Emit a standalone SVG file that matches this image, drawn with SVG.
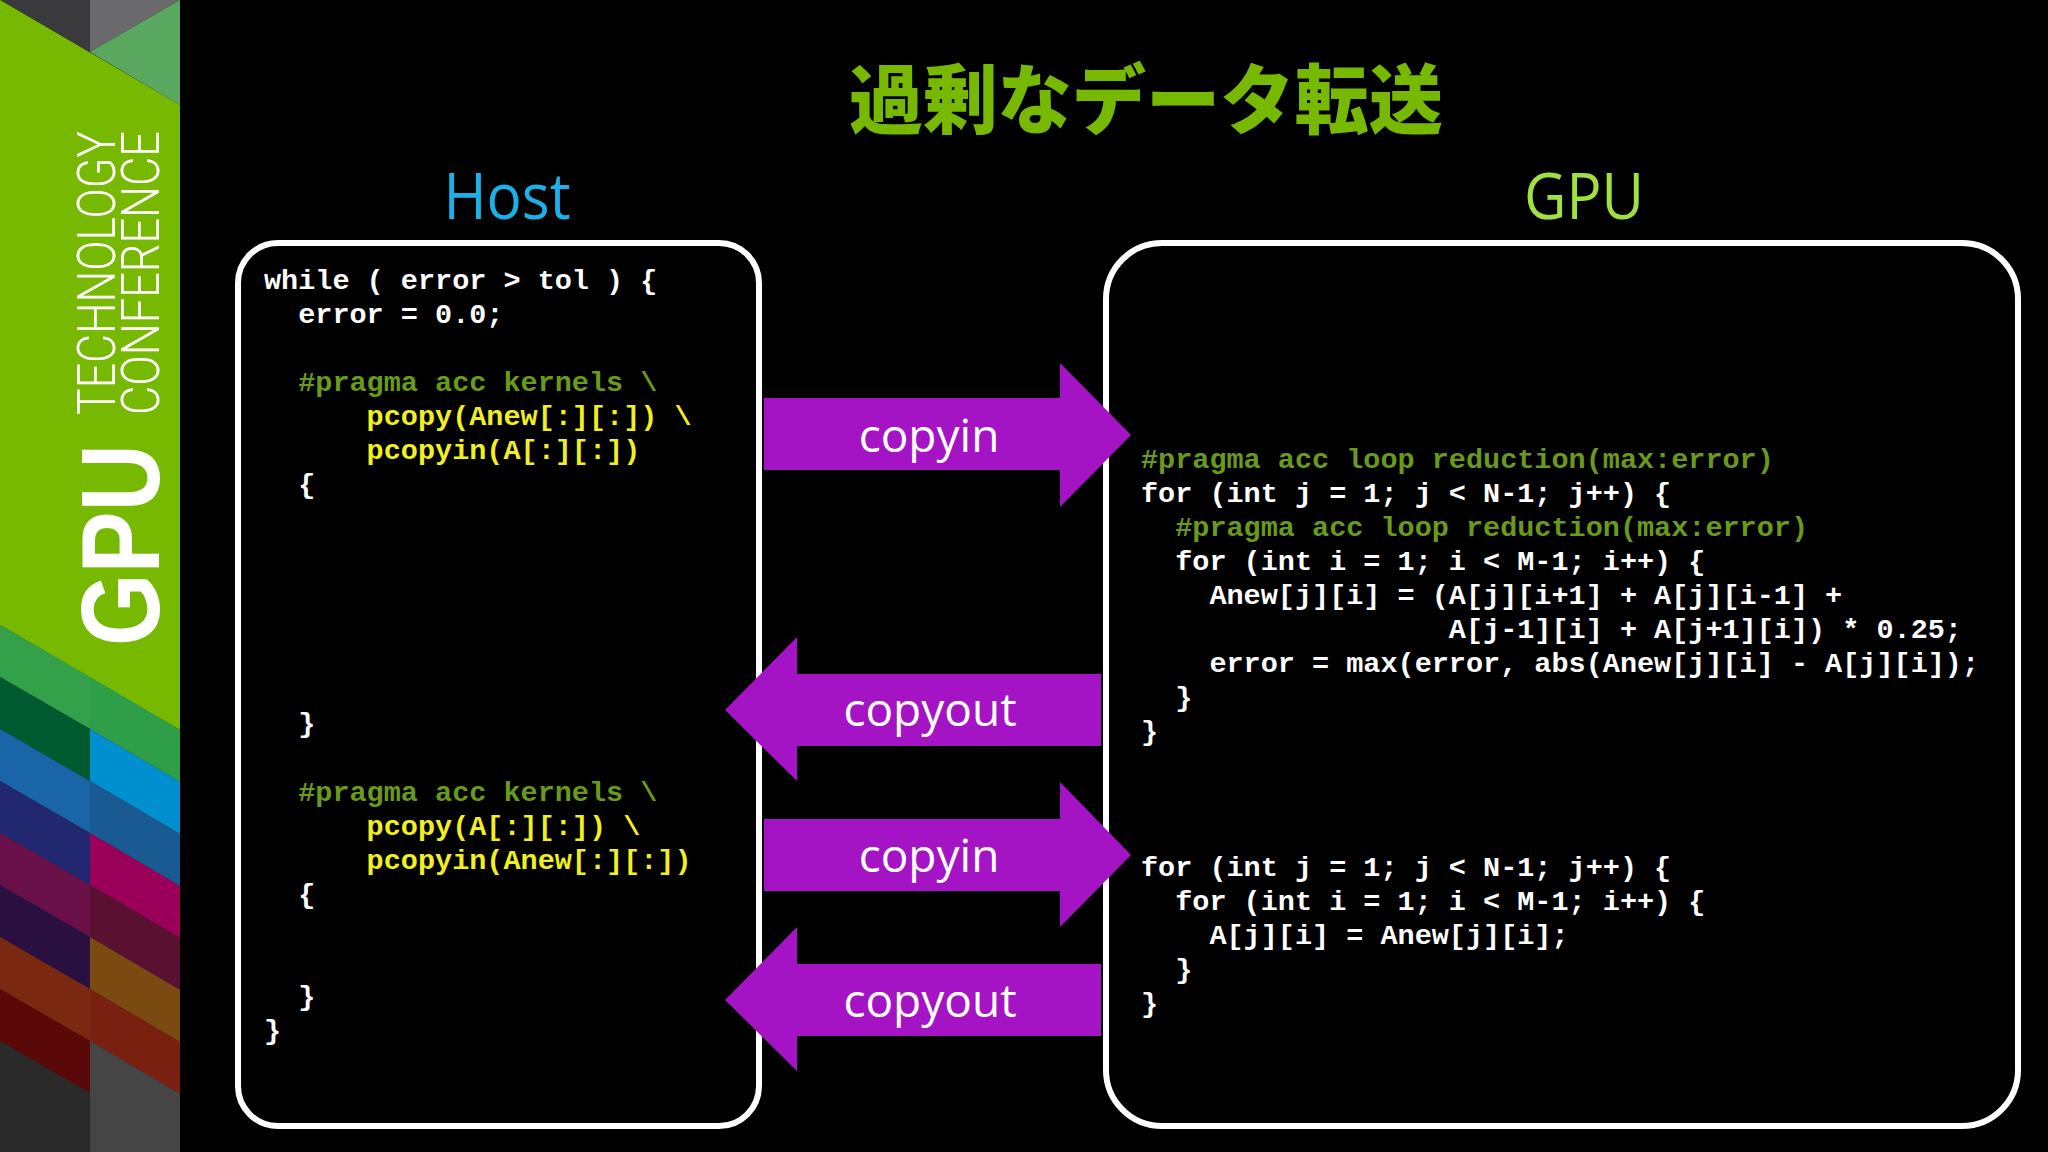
<svg xmlns="http://www.w3.org/2000/svg" width="2048" height="1152" viewBox="0 0 2048 1152">
<style>
.code{font-family:"Liberation Mono","DejaVu Sans Mono",monospace;font-weight:bold;font-size:28.5px;fill:#ffffff;white-space:pre}
.g{fill:#6a9a1a}
.y{fill:#f0f020}
.box{fill:#000;stroke:#fff;stroke-width:6}
.arr{fill:#a414c4}
.lbl{font-family:"Open Sans","Noto Sans",sans-serif;font-size:46px;fill:#fff;text-anchor:middle}
</style>
<rect width="2048" height="1152" fill="#000"/>
<g id="strip">
<rect x="0" y="0" width="180" height="1152" fill="#2a2a2a"/>
<polygon points="0,0 90,0 90,52" fill="#3a3a3c"/>
<polygon points="90,0 180,0 90,52" fill="#6a6a6c"/>
<polygon points="90,52 180,0 180,105" fill="#5aa860"/>
<polygon points="0,0 180,105 180,730 0,625" fill="#76b900"/>
<polygon points="0,625 90,677 90,729 0,677" fill="#33a04a"/>
<polygon points="0,677 90,729 90,781 0,729" fill="#005a30"/>
<polygon points="0,729 90,781 90,833 0,781" fill="#1a64a8"/>
<polygon points="0,781 90,833 90,885 0,833" fill="#222870"/>
<polygon points="0,833 90,885 90,937 0,885" fill="#6a1048"/>
<polygon points="0,885 90,937 90,989 0,937" fill="#2a1040"/>
<polygon points="0,937 90,989 90,1041 0,989" fill="#7a2810"/>
<polygon points="0,989 90,1041 90,1093 0,1041" fill="#5a0808"/>
<polygon points="0,1041 90,1093 90,1152 0,1152" fill="#2a2a2a"/>
<polygon points="90,677 180,730 180,782 90,729" fill="#2e9e48"/>
<polygon points="90,729 180,782 180,834 90,781" fill="#0090d0"/>
<polygon points="90,781 180,834 180,886 90,833" fill="#1a5a92"/>
<polygon points="90,833 180,886 180,938 90,885" fill="#9a005a"/>
<polygon points="90,885 180,938 180,990 90,937" fill="#5a1030"/>
<polygon points="90,937 180,990 180,1042 90,989" fill="#7a4a10"/>
<polygon points="90,989 180,1042 180,1094 90,1041" fill="#7a2010"/>
<polygon points="90,1041 180,1094 180,1152 90,1152" fill="#454545"/>
<text transform="translate(159,646) rotate(-90)" font-family="Liberation Sans,Arial,sans-serif" font-weight="bold" font-size="112" fill="#fff" textLength="202" lengthAdjust="spacingAndGlyphs">GPU</text>
<text transform="translate(115,415) rotate(-90)" font-family="Roboto,Liberation Sans,sans-serif" font-weight="300" font-size="54" fill="#fff" textLength="284" lengthAdjust="spacingAndGlyphs">TECHNOLOGY</text>
<text transform="translate(159,415) rotate(-90)" font-family="Roboto,Liberation Sans,sans-serif" font-weight="300" font-size="54" fill="#fff" textLength="284" lengthAdjust="spacingAndGlyphs">CONFERENCE</text>
</g>
<g id="title">
<text x="849" y="128" font-family="Noto Sans CJK JP,sans-serif" font-weight="900" font-size="76" fill="#76b900" textLength="594" lengthAdjust="spacingAndGlyphs">過剰なデータ転送</text>
<text x="507" y="219" font-family="Open Sans,Noto Sans,sans-serif" font-size="64" fill="#1ab0e8" text-anchor="middle" textLength="127" lengthAdjust="spacingAndGlyphs">Host</text>
<text x="1584" y="219" font-family="Open Sans,Noto Sans,sans-serif" font-size="64" fill="#a0e040" text-anchor="middle" textLength="120" lengthAdjust="spacingAndGlyphs">GPU</text>
</g>
<g id="host">
<rect class="box" x="238" y="243" width="521" height="883" rx="40"/>
<text class="code" x="264" y="289">while ( error &gt; tol ) {</text>
<text class="code" x="264" y="323">  error = 0.0;</text>
<text class="code g" x="264" y="391">  #pragma acc kernels \</text>
<text class="code y" x="264" y="425">      pcopy(Anew[:][:]) \</text>
<text class="code y" x="264" y="459">      pcopyin(A[:][:])</text>
<text class="code" x="264" y="493">  {</text>
<text class="code" x="264" y="732">  }</text>
<text class="code g" x="264" y="801">  #pragma acc kernels \</text>
<text class="code y" x="264" y="835">      pcopy(A[:][:]) \</text>
<text class="code y" x="264" y="869">      pcopyin(Anew[:][:])</text>
<text class="code" x="264" y="903">  {</text>
<text class="code" x="264" y="1005">  }</text>
<text class="code" x="264" y="1039">}</text>
</g>
<g id="gpu">
<rect class="box" x="1106" y="243" width="912" height="883" rx="56"/>
<text class="code g" x="1141" y="468">#pragma acc loop reduction(max:error)</text>
<text class="code" x="1141" y="502">for (int j = 1; j &lt; N-1; j++) {</text>
<text class="code g" x="1141" y="536">  #pragma acc loop reduction(max:error)</text>
<text class="code" x="1141" y="570">  for (int i = 1; i &lt; M-1; i++) {</text>
<text class="code" x="1141" y="604">    Anew[j][i] = (A[j][i+1] + A[j][i-1] +</text>
<text class="code" x="1141" y="638">                  A[j-1][i] + A[j+1][i]) * 0.25;</text>
<text class="code" x="1141" y="672">    error = max(error, abs(Anew[j][i] - A[j][i]);</text>
<text class="code" x="1141" y="706">  }</text>
<text class="code" x="1141" y="740">}</text>
<text class="code" x="1141" y="876">for (int j = 1; j &lt; N-1; j++) {</text>
<text class="code" x="1141" y="910">  for (int i = 1; i &lt; M-1; i++) {</text>
<text class="code" x="1141" y="944">    A[j][i] = Anew[j][i];</text>
<text class="code" x="1141" y="978">  }</text>
<text class="code" x="1141" y="1012">}</text>
</g>
<g id="connectors">
<polygon class="arr" points="764,398 1060,398 1060,363 1131,435 1060,507 1060,470 764,470"/>
<text class="lbl" x="929" y="452">copyin</text>
<polygon class="arr" points="1101,674 797,674 797,637 725,710 797,781 797,746 1101,746"/>
<text class="lbl" x="930" y="726">copyout</text>
<polygon class="arr" points="764,819 1060,819 1060,782 1131,855 1060,927 1060,891 764,891"/>
<text class="lbl" x="929" y="872">copyin</text>
<polygon class="arr" points="1101,964 797,964 797,927 725,1000 797,1071 797,1036 1101,1036"/>
<text class="lbl" x="930" y="1017">copyout</text>
</g>
</svg>
